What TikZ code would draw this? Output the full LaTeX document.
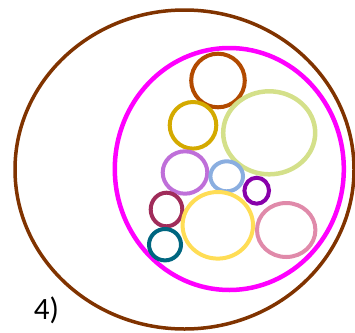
\documentclass[tikz,border=0pt]{standalone}
\usepackage{fontspec}
\setmainfont{Carlito}
\definecolor{bigbrown}{HTML}{803300}
\definecolor{mag}{HTML}{FF00FF}
\definecolor{sienna}{HTML}{B24A00}
\definecolor{goldc}{HTML}{D4AA00}
\definecolor{lgreen}{HTML}{D4E08A}
\definecolor{orchidc}{HTML}{BF6FD9}
\definecolor{lblue}{HTML}{8AAEE0}
\definecolor{purp}{HTML}{8800AA}
\definecolor{dred}{HTML}{A02C5A}
\definecolor{yel}{HTML}{FFDD55}
\definecolor{pinkc}{HTML}{E08AAA}
\definecolor{tealc}{HTML}{006680}
\tikzset{ring/.style={line width=4pt}}
\begin{document}
\begin{tikzpicture}[x=1pt,y=-1pt]
\useasboundingbox (0,0) rectangle (355,332);
\draw[bigbrown,line width=3.5pt] (184.5,169.5) ellipse [x radius=169.5, y radius=159.5];
\draw[mag,line width=4.5pt] (229.3,169) ellipse [x radius=114.5, y radius=121];
\draw[sienna,ring] (218,80.5) circle [radius=26.8];
\draw[goldc,ring] (193,125.3) circle [radius=23.3];
\draw[lgreen,line width=4.5pt] (269.2,132.8) ellipse [x radius=46, y radius=41.5];
\draw[orchidc,ring] (185,172.5) ellipse [x radius=22.3, y radius=21.2];
\draw[lblue,ring] (226.7,176.3) ellipse [x radius=16.3, y radius=15];
\draw[purp,ring] (256.7,190.7) ellipse [x radius=12.3, y radius=13];
\draw[dred,ring] (166.5,209.5) ellipse [x radius=15.8, y radius=16.8];
\draw[yel,ring] (217.8,225.3) ellipse [x radius=35.2, y radius=33.3];
\draw[pinkc,ring] (286.2,230) ellipse [x radius=29.2, y radius=27];
\draw[tealc,ring] (165,244.7) ellipse [x radius=16, y radius=15.7];
\node[font=\fontsize{31}{33}\selectfont, inner sep=0pt] (lbl) at (46.5,310) {4)};
\end{tikzpicture}
\end{document}
